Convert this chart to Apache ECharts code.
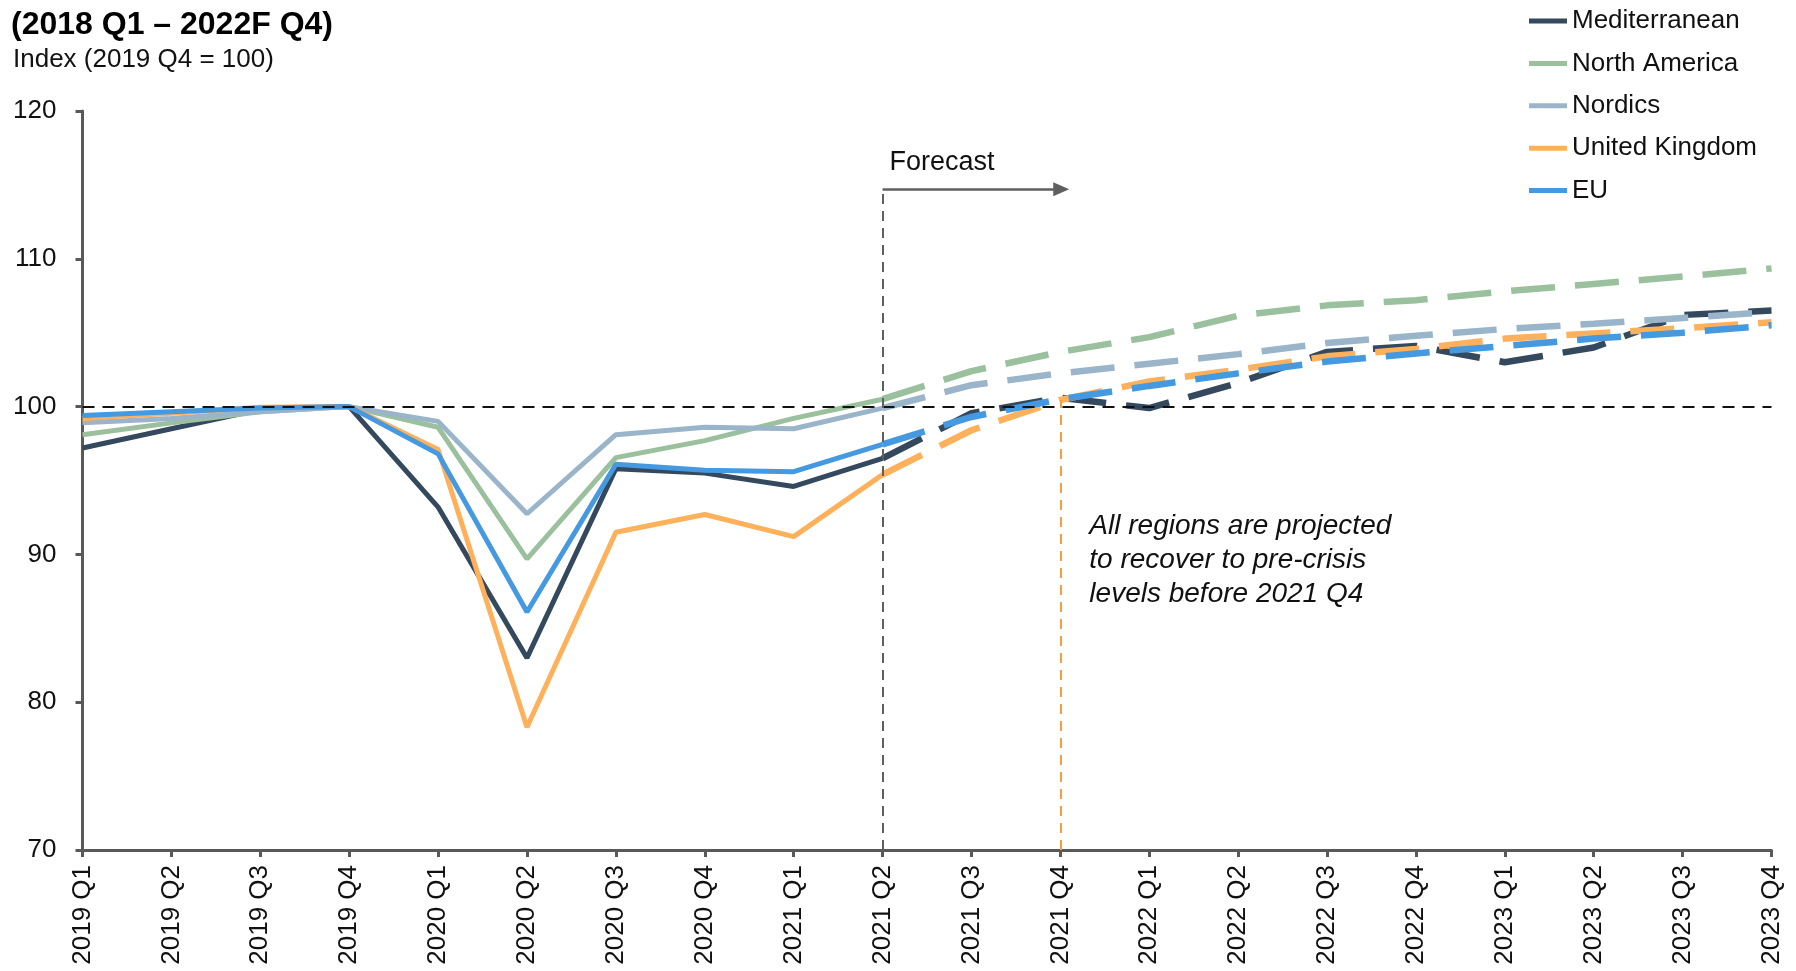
<!DOCTYPE html>
<html>
<head>
<meta charset="utf-8">
<script src="https://cdn.jsdelivr.net/npm/echarts@6/dist/echarts.min.js"></script>
<style>
html,body{margin:0;padding:0;background:#fff;}
#chart{width:1796px;height:971px;}
</style>
</head>
<body>
<div id="chart"></div>
<script>
const categories = ['2019 Q1','2019 Q2','2019 Q3','2019 Q4','2020 Q1','2020 Q2','2020 Q3','2020 Q4','2021 Q1','2021 Q2','2021 Q3','2021 Q4','2022 Q1','2022 Q2','2022 Q3','2022 Q4','2023 Q1','2023 Q2','2023 Q3','2023 Q4'];
const forecastStart = 9;      // 2021 Q2
const recoveryIndex = 11;     // 2021 Q4
const yTicks = [70, 80, 90, 100, 110, 120];

const mediterranean = [97.2, 98.5, 99.8, 100, 93.2, 83.0, 95.8, 95.5, 94.6, 96.5, 99.55, 100.6, 99.9, 101.6, 103.7, 104.1, 103.0, 104.0, 106.2, 106.5];
const northAmerica  = [98.1, 98.9, 99.65, 100, 98.6, 89.7, 96.55, 97.7, 99.2, 100.5, 102.4, 103.7, 104.7, 106.15, 106.85, 107.2, 107.8, 108.3, 108.8, 109.35];
const nordics       = [98.9, 99.2, 99.65, 100, 99.0, 92.75, 98.1, 98.6, 98.5, 99.9, 101.45, 102.25, 102.9, 103.55, 104.3, 104.8, 105.25, 105.6, 106.0, 106.4];
const unitedKingdom = [99.2, 99.55, 99.95, 100, 97.1, 78.3, 91.5, 92.7, 91.2, 95.4, 98.4, 100.45, 101.7, 102.5, 103.4, 103.9, 104.6, 104.95, 105.3, 105.7];
const eu            = [99.4, 99.65, 99.9, 100, 96.8, 86.1, 96.1, 95.7, 95.6, 97.45, 99.3, 100.5, 101.4, 102.25, 103.05, 103.6, 104.1, 104.6, 105.0, 105.5];

const baseline = 100;
const forecastArrowY = 114.7;
const forecastArrowEnd = 11.01;

const regions = [
  {name: 'Mediterranean', data: mediterranean, color: '#34495E'},
  {name: 'North America', data: northAmerica, color: '#9BC09D'},
  {name: 'Nordics', data: nordics, color: '#9AB4C9'},
  {name: 'United Kingdom', data: unitedKingdom, color: '#FFB05A'},
  {name: 'EU', data: eu, color: '#4499E1'}
];

const FONT = "'Liberation Sans', Arial, Helvetica, sans-serif";

const series = [];
regions.forEach(r => {
  series.push({
    name: r.name, type: 'line', symbol: 'none', animation: false,
    color: r.color,
    lineStyle: {width: 5, color: r.color},
    data: r.data.slice(0, forecastStart + 1).map((v, i) => [i, v]),
    z: 3
  });
});
regions.forEach(r => {
  series.push({
    name: r.name, type: 'line', symbol: 'none', animation: false,
    color: r.color,
    lineStyle: {width: 6.5, color: r.color, type: [44, 20]},
    data: r.data.slice(forecastStart).map((v, k) => [k + forecastStart, v]),
    z: 3
  });
});

series[series.length - 1].markLine = {
  silent: true, animation: false, symbol: 'none',
  label: {show: false},
  data: [
    [{coord: [0, baseline], lineStyle: {color: '#111', width: 2.2, type: [12, 8]}}, {coord: [categories.length - 1, baseline]}],
    [{coord: [forecastStart, yTicks[0]], lineStyle: {color: '#5f5f5f', width: 2, type: [10, 7]}}, {coord: [forecastStart, forecastArrowY]}],
    [{coord: [recoveryIndex, yTicks[0]], lineStyle: {color: '#F5A03C', width: 2, type: [10, 7]}}, {coord: [recoveryIndex, unitedKingdom[recoveryIndex]]}],
    [{coord: [forecastStart, forecastArrowY], symbol: 'none', lineStyle: {color: '#5f5f5f', width: 2.5, type: 'solid'}},
     {coord: [forecastArrowEnd, forecastArrowY], symbol: 'triangle', symbolSize: [14, 16]}]
  ]
};

const chart = echarts.init(document.getElementById('chart'), null, {renderer: 'canvas'});

function titleGraphics(extra) {
  return [
    {type: 'text', left: 11, top: 9, style: {text: '(2018 Q1 \u2013 2022F Q4)', font: "bold 32px " + FONT, fill: '#000'}},
    {type: 'text', left: 13, top: 46.5, style: {text: 'Index (2019 Q4 = 100)', font: "26px " + FONT, fill: '#111'}}
  ].concat(extra || []);
}

chart.setOption({
  animation: false,
  backgroundColor: '#fff',
  textStyle: {fontFamily: FONT},
  grid: {left: 82.5, right: 24.5, top: 111, bottom: 121, containLabel: false},
  legend: {
    orient: 'vertical', left: 1524, top: 3,
    icon: 'rect', itemWidth: 38, itemHeight: 5, itemGap: 16.4,
    data: regions.map(r => r.name),
    textStyle: {fontSize: 26, color: '#111', fontFamily: FONT, lineHeight: 26}
  },
  xAxis: {
    type: 'value', min: 0, max: categories.length - 1, interval: 1,
    axisLine: {show: true, lineStyle: {color: '#595959', width: 3}},
    axisTick: {show: true, length: 7, lineStyle: {color: '#595959', width: 3}},
    splitLine: {show: false},
    axisLabel: {
      rotate: 90, margin: 15, fontSize: 26, color: '#111', fontFamily: FONT,
      formatter: v => categories[v] || ''
    }
  },
  yAxis: {
    type: 'value', min: yTicks[0], max: yTicks[yTicks.length - 1], interval: 10,
    axisLine: {show: true, lineStyle: {color: '#595959', width: 3}},
    axisTick: {show: true, length: 7, lineStyle: {color: '#595959', width: 3}},
    splitLine: {show: false},
    axisLabel: {margin: 26, fontSize: 26, color: '#111', fontFamily: FONT}
  },
  graphic: titleGraphics(),
  series: series
});

const fPt = chart.convertToPixel({gridIndex: 0}, [forecastStart, forecastArrowY]);
const aPt = chart.convertToPixel({gridIndex: 0}, [recoveryIndex, 92]);
chart.setOption({
  graphic: titleGraphics([
    {type: 'text', x: fPt[0] + 7, y: fPt[1] - 27, style: {text: 'Forecast', font: "27px " + FONT, fill: '#111', textVerticalAlign: 'middle'}},
    {type: 'text', x: aPt[0] + 29, y: aPt[1] - 16, style: {text: 'All regions are projected\nto recover to pre-crisis\nlevels before 2021 Q4', font: "italic 28px " + FONT, fill: '#111', lineHeight: 34}}
  ])
}, {replaceMerge: ['graphic']});
</script>
</body>
</html>
